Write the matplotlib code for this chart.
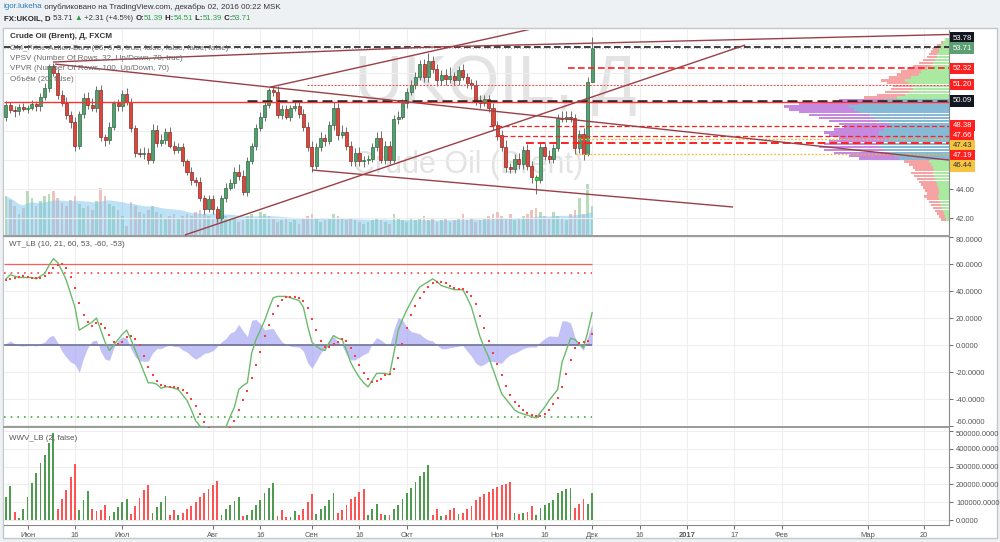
import numpy as np
import pandas as pd
import matplotlib
matplotlib.use("Agg")
import matplotlib.pyplot as plt
from matplotlib.patches import Rectangle
from matplotlib.transforms import blended_transform_factory

plt.rcParams['font.family'] = ['Liberation Sans', 'DejaVu Sans']

# ---------- Data ----------
bar_dates = pd.bdate_range("2016-05-25", "2016-12-01")     # daily bars on the chart
axis_dates = pd.bdate_range("2016-05-25", "2017-04-28")    # time scale incl. empty future

first_open = 48.99
closes = [
    49.79, 49.45, 49.40, 49.65, 49.55, 49.62, 49.85, 49.70, 50.35, 51.00,
    52.50, 51.98, 50.50, 49.95, 49.10, 48.60, 46.95, 49.20, 50.30, 49.80,
    49.60, 50.80, 47.60, 47.40, 48.30, 49.90, 49.70, 50.55, 50.00, 48.20,
    46.50, 46.40, 46.50, 46.00, 48.10, 47.20, 47.40, 47.90, 47.00, 46.70,
    46.90, 45.90, 45.20, 44.60, 44.50, 43.40, 42.60, 43.30, 42.60, 42.00,
    43.40, 44.10, 44.40, 45.20, 44.90, 43.80, 45.90, 47.00, 48.20, 49.00,
    49.80, 50.80, 50.70, 49.10, 49.50, 49.00, 49.60, 49.70, 49.20, 48.30,
    46.90, 45.60, 46.90, 47.50, 47.30, 48.40, 49.60, 47.70, 47.90, 47.00,
    45.90, 46.50, 45.90, 46.00, 46.05, 46.90, 47.50, 46.00, 47.00, 46.00,
    48.80, 49.00, 49.90, 50.70, 51.20, 51.70, 52.60, 51.70, 52.80, 52.30,
    51.50, 51.90, 51.60, 51.80, 51.50, 52.20, 51.70, 51.30, 51.20, 50.10,
    49.90, 50.20, 49.60, 48.40, 47.70, 46.90, 45.50, 45.40, 46.10, 45.70,
    46.70, 45.60, 44.80, 44.65, 46.90, 46.30, 46.10, 46.80, 48.90, 48.85,
    48.95, 48.90, 46.80, 47.80, 46.40, 51.40, 53.71,
]
wick_up = [
    0.3, 0.2, 0.3, 0.2, 0.3, 0.2, 0.3, 0.2, 0.3, 0.3,
    0.1, 0.2, 0.3, 0.3, 0.4, 0.3, 0.4, 0.2, 0.3, 0.4,
    0.5, 0.3, 0.4, 0.2, 0.3, 0.2, 0.3, 0.3, 0.4, 0.3,
    0.2, 0.3, 0.4, 0.3, 0.4, 0.3, 0.4, 0.3, 0.4, 0.3,
    0.3, 0.3, 0.2, 0.3, 0.2, 0.3, 0.2, 0.3, 0.3, 0.2,
    0.2, 0.3, 0.3, 0.3, 0.5, 0.4, 0.3, 0.2, 0.3, 0.3,
    0.3, 0.2, 0.3, 0.4, 0.3, 0.3, 0.2, 0.3, 0.3, 0.3,
    0.3, 0.4, 0.3, 0.4, 0.3, 0.3, 0.4, 0.3, 0.5, 0.4,
    0.3, 0.3, 0.4, 0.3, 0.3, 0.3, 0.4, 0.5, 0.3, 0.3,
    0.3, 0.4, 0.3, 0.3, 0.3, 0.4, 0.3, 0.4, 0.6, 0.4,
    0.3, 0.3, 0.4, 0.6, 0.3, 0.3, 0.4, 0.3, 0.3, 0.3,
    0.4, 0.3, 0.3, 0.3, 0.3, 0.4, 0.5, 0.3, 0.3, 0.4,
    0.3, 0.4, 0.3, 0.2, 0.3, 0.3, 0.4, 0.3, 0.3, 0.5,
    0.4, 0.4, 0.3, 0.3, 0.4, 0.3, 0.80,
]
wick_dn = [
    0.3, 0.2, 0.4, 0.3, 0.2, 0.3, 0.2, 0.3, 0.3, 0.2,
    0.3, 0.2, 0.3, 0.2, 0.3, 0.4, 0.3, 0.2, 0.3, 0.3,
    0.2, 0.3, 0.3, 0.4, 0.3, 0.2, 0.3, 0.3, 0.2, 0.3,
    0.3, 0.2, 0.3, 0.3, 0.2, 0.3, 0.2, 0.3, 0.2, 0.3,
    0.2, 0.3, 0.2, 0.3, 0.3, 0.2, 0.3, 0.2, 0.3, 0.3,
    0.2, 0.3, 0.2, 0.3, 0.3, 0.2, 0.3, 0.2, 0.3, 0.2,
    0.3, 0.2, 0.3, 0.2, 0.3, 0.2, 0.3, 0.2, 0.3, 0.3,
    0.3, 0.4, 0.2, 0.3, 0.3, 0.2, 0.3, 0.3, 0.2, 0.3,
    0.3, 0.3, 0.3, 0.4, 0.3, 0.2, 0.3, 0.2, 0.3, 0.3,
    0.2, 0.3, 0.2, 0.3, 0.2, 0.3, 0.2, 0.3, 0.3, 0.3,
    0.4, 0.3, 0.4, 0.3, 0.3, 0.3, 0.2, 0.3, 0.3, 0.3,
    0.3, 0.2, 0.3, 0.3, 0.3, 0.3, 0.3, 0.3, 0.3, 0.3,
    0.3, 0.3, 0.4, 1.0, 0.2, 0.3, 0.3, 0.3, 0.2, 0.2,
    0.2, 0.3, 0.4, 0.3, 0.4, 0.1, 0.0,
]
volume = [
    40, 36, 30, 22, 28, 45, 38, 30, 35, 40,
    42, 45, 38, 33, 30, 36, 40, 32, 28, 30,
    26, 35, 48, 40, 32, 30, 26, 20, 10, 34,
    30, 24, 22, 26, 30, 24, 22, 18, 20, 22,
    18, 20, 22, 20, 24, 26, 22, 20, 18, 22,
    25, 20, 16, 18, 14, 16, 20, 22, 18, 24,
    22, 20, 18, 14, 16, 18, 14, 16, 12, 18,
    20, 22, 18, 14, 16, 18, 22, 20, 18, 16,
    18, 16, 14, 12, 14, 16, 18, 16, 14, 12,
    22, 18, 16, 14, 18, 16, 18, 20, 16, 18,
    14, 16, 18, 14, 16, 18, 22, 16, 18, 14,
    16, 18, 20, 22, 24, 20, 18, 22, 16, 18,
    20, 22, 26, 28, 24, 20, 18, 24, 20, 18,
    16, 22, 26, 38, 22, 52, 30,
]
pab_bars = [5, 84, 123]   # bars painted by GM_Price-Action-Bars

wt1 = [
    49, 52, 51, 50, 50, 50, 50, 49, 51, 53,
    59, 64, 61, 55, 48, 38, 28, 11, 13, 15,
    17, 20, 11, 2, -4, 0, 4, 8, 11, 4,
    -4, -12, -20, -28, -28, -29, -32, -31, -31, -32,
    -33, -37, -41, -48, -56, -60, -63, -67, -69, -68,
    -65, -61, -53, -46, -33, -30, -28, -6, 4, 11,
    18, 27, 35, 36, 36, 36, 35, 34, 33, 28,
    14, 2, -1, -3, -4, 2, 7, 5, 4, -4,
    -13, -19, -24, -28, -31, -26, -21, -21, -21, -22,
    -6, 11, 19, 26, 32, 38, 43, 45, 47, 49,
    47, 44, 43, 42, 41, 41, 41, 35, 28, 17,
    6, -2, -9, -18, -27, -36, -40, -44, -48, -50,
    -51, -52, -53, -54, -50, -46, -41, -37, -33, -13,
    -4, 5, 4, 1, -2, 10, 24,
]
wt2 = [
    48, 49, 50, 50.5, 50.8, 50.3, 50, 49.8, 50, 50.8,
    53, 56.8, 59.3, 59.8, 57, 50.5, 42.3, 31.3, 22.5, 16.8,
    14, 16.3, 15.8, 12.5, 7.3, 2.3, 0.5, 2, 5.8, 6.8,
    4.8, -0.3, -8, -16, -22, -26.3, -29.3, -30, -30.8, -31,
    -31.8, -33.3, -35.8, -39.8, -45.5, -51.3, -56.8, -61.5, -64.8, -66.8,
    -67.3, -65.8, -61.8, -56.3, -48.3, -40.5, -34.3, -24.3, -15, -4.8,
    6.8, 15, 22.8, 29, 33.5, 35.8, 35.8, 35.3, 34.5, 32.5,
    27.3, 19.3, 10.8, 3, -1.5, -1.5, 0.5, 2.5, 4.5, 3,
    -2, -8, -15, -21, -25.5, -27.3, -26.5, -24.8, -22.3, -21.3,
    -17.5, -9.5, 0.5, 12.5, 22, 28.8, 34.8, 39.5, 43.3, 46,
    47, 46.8, 45.8, 44, 42.5, 41.8, 41.3, 39.5, 36.3, 30.3,
    21.5, 12.3, 3, -5.8, -14, -22.5, -30.3, -36.8, -42, -45.5,
    -48.3, -50.3, -51.5, -52.5, -52.3, -50.8, -47.8, -43.5, -39.3, -31,
    -21.8, -11.3, -2, 1.5, 2, 3.3, 8.3,
]

wwv = [   # thousands
    129, 191, 45, 11, 62, 129, 208, 264, 320, 365,
    432, 488, 62, 118, 168, 241, 314, 56, 112, 163,
    62, 51, 56, 84, 22, 45, 73, 101, 118, 34,
    79, 124, 168, 197, 39, 73, 101, 135, 28, 56,
    28, 39, 62, 79, 101, 129, 152, 174, 197, 219,
    28, 62, 84, 107, 129, 22, 28, 56, 84, 112,
    152, 180, 208, 22, 56, 17, 17, 51, 30, 62,
    100, 145, 35, 62, 80, 110, 150, 40, 55, 85,
    120, 130, 160, 175, 30, 60, 90, 35, 30, 30,
    60, 85, 120, 150, 180, 215, 250, 270, 310, 30,
    60, 25, 30, 55, 70, 35, 40, 60, 80, 110,
    130, 145, 160, 175, 185, 195, 205, 215, 40, 35,
    40, 45, 80, 30, 70, 85, 95, 110, 150, 165,
    175, 180, 70, 90, 120, 90, 150,
]
wwv_dir = ("gg" "r" "ggggggggg" "rrrrr" "ggg" "rrrr" "ggggg" "rrrrr" "gggg" "rr"
           "g" "rrrrrrrrr" "ggggg" "r" "ggggggg" "rrr" "gg" "rrrr" "ggggg"
           "rrrrrrr" "ggg" "r" "g" "r" "ggggggggg" "rr" "g" "rrr" "g"
           "rrrrrrrrrrrr" "g" "r" "g" "rr" "ggggggggg" "rrr" "gg")

# visible-range volume profile rows
vp_prices = [54.3, 54.1, 53.9, 53.7, 53.5, 53.3, 53.1, 52.9, 52.7, 52.5, 52.3,
             52.1, 51.9, 51.7, 51.5, 51.3, 51.1, 50.9, 50.7, 50.5, 50.3,
             50.1, 49.9, 49.7, 49.5, 49.3, 49.1, 48.9, 48.7, 48.5, 48.3,
             48.1, 47.9, 47.7, 47.5, 47.3, 47.1, 46.9, 46.7, 46.5, 46.3,
             46.1, 45.9, 45.7, 45.5, 45.3, 45.1, 44.9, 44.7, 44.5, 44.3,
             44.1, 43.9, 43.7, 43.5, 43.3, 43.1, 42.9, 42.7, 42.5, 42.3,
             42.1, 41.9]
vp_up = [4, 6, 8, 10, 10, 12, 12, 14, 16, 18, 22, 28, 30, 38, 44, 40, 36, 36, 40, 44, 52,
         65, 90, 100, 95, 90, 80, 75, 70, 60, 60, 65, 70, 70, 60, 65, 70, 70, 65, 60, 55,
         50, 20, 18, 16, 15, 16, 15, 14, 13, 12, 11, 10, 10, 11, 10, 9, 8, 7, 6, 5, 4, 3]
vp_down = [0, 2, 4, 6, 8, 8, 10, 12, 14, 18, 20, 20, 22, 22, 24, 22, 20, 22, 24, 28, 33,
           45, 60, 65, 65, 60, 60, 55, 50, 50, 45, 50, 55, 50, 50, 55, 55, 60, 60, 55, 45,
           40, 25, 22, 20, 19, 22, 20, 18, 17, 16, 15, 14, 12, 14, 12, 11, 10, 9, 8, 7, 6, 5]
va_low, va_high = 46.05, 50.15

# horizontal levels and the bar where each one starts
level_prices = [53.78, 53.71, 52.32, 51.20, 50.09, 50.00, 48.38, 47.66, 47.43, 47.19, 46.44]
level_start = [-0.5, -0.5, 130.4, 69.8, 56.0, -0.5, 112.0, 113.5, 132.5, 120.6, 132.0]

label_prices = [53.78, 53.71, 52.32, 51.20, 50.09, 48.38, 47.66, 47.43, 47.19, 46.44]
last_price = 53.71

# trend lines: (bar, price) -> (bar, price)
trend_lines = [
    (10.9, 52.76, 98.4, 53.79),
    (98.4, 53.79, 218.8, 54.66),
    (61.3, 51.03, 150.0, 56.90),
    (11.4, 52.62, 218.8, 46.00),
    (71.0, 45.31, 168.7, 42.76),
    (41.5, 40.83, 171.5, 53.93),
]

tick_dates = ["2016-06-01", "2016-06-16", "2016-07-01", "2016-08-01", "2016-08-16",
              "2016-09-01", "2016-09-16", "2016-10-03", "2016-11-01", "2016-11-16",
              "2016-12-01", "2016-12-16", "2017-01-02", "2017-01-17", "2017-02-01",
              "2017-03-01", "2017-03-20"]
tick_labels = ["Июн", "16", "Июл", "Авг", "16", "Сен", "16", "Окт", "Ноя", "16",
               "Дек", "16", "2017", "17", "Фев", "Мар", "20"]

# ---------- Derived ----------
n = len(closes)
idx = np.arange(n)
cl = np.array(closes)
op = np.array([first_open] + closes[:-1])      # FX bars open at the prior close
top = np.maximum(op, cl)
bot = np.minimum(op, cl)
highs = top + np.array(wick_up)
lows = bot - np.array(wick_dn)
is_up = cl >= op
tick_pos = axis_dates.get_indexer(pd.to_datetime(tick_dates))

# ---------- Figure / layout (pixel based) ----------
W, H = 1000, 542
fig = plt.figure(figsize=(10, 5.42), dpi=100, facecolor='#eef1f4')

def fx(x):
    return x / W

def fy(y):
    return 1 - y / H

def panel(x0, y0, x1, y1, **kw):
    return fig.add_axes([fx(x0), fy(y1), fx(x1) - fx(x0), fy(y0) - fy(y1)], **kw)

fig.patches.append(Rectangle((fx(3), fy(538)), fx(994), fy(28) - fy(538),
                             transform=fig.transFigure, fc='white', ec='#c3c7cb', lw=1, zorder=-5))

XMIN, XMAX = -0.46, 218.8
GRID = '#eeeeee'
TXT = '#555555'

ax_vol = panel(4, 30, 949, 236)
ax_p = panel(4, 30, 949, 236)
ax_w = panel(4, 237, 949, 427)
ax_v = panel(4, 428, 949, 525)

for a in (ax_vol, ax_p, ax_w, ax_v):
    a.set_xlim(XMIN, XMAX)
    a.set_xticks(tick_pos)
    a.tick_params(axis='x', length=0, labelbottom=False)
    for s in ('top', 'left', 'bottom'):
        a.spines[s].set_visible(False)
    a.spines['right'].set_color('#8a8a8a')
    a.yaxis.tick_right()
    a.tick_params(axis='y', labelsize=5.4, colors=TXT, length=3, pad=2, width=0.6)
    a.grid(True, color=GRID, lw=0.8)
    a.set_axisbelow(True)

ax_vol.set_facecolor('white')
ax_vol.set_ylim(0, 206)
ax_vol.set_yticks([])
ax_vol.spines['right'].set_visible(False)
ax_p.set_facecolor('none')
ax_p.set_ylim(40.76, 54.97)
ax_p.set_yticks([42, 44, 46, 48, 50, 52, 54])
ax_p.set_yticklabels(['42.00', '44.00', '', '', '', '', ''])
ax_p.grid(True, color=GRID, lw=0.8)
ax_p.grid(False, axis='x')
for a in (ax_p, ax_w):
    a.spines['bottom'].set_visible(True)
    a.spines['bottom'].set_color('#9a9a9a')
    a.spines['bottom'].set_linewidth(1.4)

# ---------- Volume (Объём) ----------
vcol = np.where(is_up, '#b8dcb8', '#f0c2bd')
ax_vol.bar(idx, volume, width=0.62, color=vcol, lw=0)
vol_ma = pd.Series(volume, dtype=float).rolling(20, min_periods=1).mean()
ax_vol.fill_between(idx, 0, vol_ma, color='#7cc6ef', alpha=0.5, lw=0)

# ---------- Watermark ----------
ax_p.text(81.0, 50.0, "UKOIL, Д", fontsize=48, color='#e3e3e3', ha='left', va='baseline',
          zorder=0.5)
ax_p.text(80.5, 45.1, "Crude Oil (Brent)", fontsize=22, color='#e3e3e3', ha='left',
          va='baseline', zorder=0.5)

# ---------- Volume profile ----------
vp_up_a = np.array(vp_up, float)
vp_dn_a = np.array(vp_down, float)
scale = 0.175 * (XMAX - XMIN) / (vp_up_a + vp_dn_a).max()
for p, u, d in zip(vp_prices, vp_up_a * scale, vp_dn_a * scale):
    in_va = va_low <= p <= va_high
    cu = '#86b9d6' if in_va else '#a9eaa0'
    cd = '#c58ae0' if in_va else '#f5a3a3'
    ax_p.barh(p, u, left=XMAX - u, height=0.17, color=cu, lw=0, zorder=1.5)
    ax_p.barh(p, d, left=XMAX - u - d, height=0.17, color=cd, lw=0, zorder=1.5)

# ---------- Candles ----------
ax_p.vlines(idx, lows, highs, color='#6f6f6f', lw=0.7, zorder=2)
body_h = np.maximum(top - bot, 0.05)
face = np.where(is_up, '#53a06e', '#d9473d')
edge = np.where(is_up, '#2f6a45', '#8a2a22')
for i in pab_bars:
    face[i] = '#2ee82e'
    edge[i] = '#1a8a1a'
ax_p.bar(idx, body_h, bottom=bot, width=0.7, color=face, edgecolor=edge, lw=0.5, zorder=3)

# ---------- Levels ----------
lvl_style = [
    dict(color='#1c1c1c', ls=(0, (4, 2)), lw=1.2),
    dict(color='#b0b0b0', ls=':', lw=0.8),
    dict(color='#ff2020', ls=(0, (4, 2)), lw=1.2),
    dict(color='#ff4040', ls=(0, (2, 1.5)), lw=0.7),
    dict(color='#1c1c1c', ls=(0, (4, 2)), lw=1.8),
    dict(color='#ff3030', ls='-', lw=1.0),
    dict(color='#ff2020', ls=(0, (4, 2)), lw=0.9),
    dict(color='#ff2020', ls=(0, (4, 2)), lw=0.9),
    dict(color='#f5b82e', ls=(0, (1.5, 1.5)), lw=0.9),
    dict(color='#ff2020', ls=(0, (4, 2)), lw=1.4),
    dict(color='#f5b82e', ls=(0, (1.5, 1.5)), lw=0.9),
]
for p, x0, st in zip(level_prices, level_start, lvl_style):
    ax_p.hlines(p, x0, XMAX, zorder=4, **st)

for x0, p0, x1, p1 in trend_lines:
    ax_p.plot([x0, x1], [p0, p1], color='#9b3f46', lw=1.0, zorder=4, solid_capstyle='butt')

# ---------- Right-scale price labels (stacked like TradingView) ----------
lbl_colors = {
    53.78: ('#131722', 'white'), 53.71: ('#5b9f73', 'white'), 52.32: ('#ff1f1f', 'white'),
    51.20: ('#ff1f1f', 'white'), 50.09: ('#131722', 'white'), 48.38: ('#ff1f1f', 'white'),
    47.66: ('#ff1f1f', 'white'), 47.43: ('#f6c343', '#333333'), 47.19: ('#ff1f1f', 'white'),
    46.44: ('#f6c343', '#333333'),
}
to_disp = ax_p.transData
ypx = {p: to_disp.transform((0, p))[1] for p in label_prices}
gap = 10.0
prev = ypx[last_price]
for p in sorted([q for q in label_prices if q > last_price]):
    ypx[p] = max(ypx[p], prev + gap)
    prev = ypx[p]
prev = ypx[last_price]
for p in sorted([q for q in label_prices if q < last_price], reverse=True):
    ypx[p] = min(ypx[p], prev - gap)
    prev = ypx[p]
lab_tr = blended_transform_factory(ax_p.transAxes, ax_p.transData)
for p in label_prices:
    yd = to_disp.inverted().transform((0, ypx[p]))[1]
    bg, fg = lbl_colors[p]
    ax_p.text(1.004, yd, f"{p:.2f}", transform=lab_tr, fontsize=5.6, color=fg,
              ha='left', va='center', clip_on=False, zorder=10,
              bbox=dict(boxstyle='square,pad=0.3', fc=bg, ec='none'))

# ---------- WT_LB ----------
wt1_a = np.array(wt1, float)
wt2_a = np.array(wt2, float)
ax_w.set_ylim(-60.7, 80)
ax_w.set_yticks(range(-60, 81, 20))
ax_w.set_yticklabels([f"{v:.4f}" for v in range(-60, 81, 20)])
ax_w.get_yticklabels()[0].set_va('bottom')     # keep clear of the panel below
ax_w.get_yticklabels()[-1].set_va('top')
ax_w.fill_between(idx, 0, wt1_a - wt2_a, color='#a8a8f5', alpha=0.7, lw=0, zorder=1)
ax_w.hlines(0, XMIN, idx[-1], color='#6f6f95', lw=1.2, zorder=2)
ax_w.hlines(60, XMIN, idx[-1], color='#ff5c5c', lw=0.9, zorder=2)
ax_w.hlines(53, XMIN, idx[-1], color='#ff4040', lw=1.2, ls=(0, (1, 3)), zorder=2)
ax_w.hlines(-53, XMIN, idx[-1], color='#3fae3f', lw=1.2, ls=(0, (1, 3)), zorder=2)
ax_w.hlines(-60, XMIN, idx[-1], color='#6fbf6f', lw=0.9, zorder=2)
ax_w.plot(idx, wt1_a, color='#6cbb6c', lw=1.0, zorder=3)
ax_w.scatter(idx, wt2_a, s=2.5, marker='s', color='#ff3b3b', lw=0, zorder=4)

# ---------- WWV_LB ----------
wwv_a = np.array(wwv, float) * 1000
wcol = ['#4e9a4e' if c == 'g' else '#ff5252' for c in wwv_dir]
ax_v.set_ylim(-28000, 517000)
ax_v.set_yticks(range(0, 500001, 100000))
ax_v.set_yticklabels([f"{v:.4f}" for v in range(0, 500001, 100000)])
ax_v.get_yticklabels()[-1].set_va('top')
ax_v.bar(idx[:len(wcol)], wwv_a[:len(wcol)], width=0.42, color=wcol, lw=0, zorder=2)
ax_v.spines['bottom'].set_visible(True)
ax_v.spines['bottom'].set_color('#8a8a8a')
ax_v.tick_params(axis='x', length=3, labelbottom=True, labelsize=5.4, colors=TXT, pad=2,
                 width=0.6)
ax_v.set_xticklabels(tick_labels)
for t, s in zip(ax_v.get_xticklabels(), tick_labels):
    if s == "2017":
        t.set_fontweight('bold')

# ---------- Texts ----------
def text_run(x, y, parts, size):
    r = fig.canvas.get_renderer()
    for s, color, weight in parts:
        t = fig.text(fx(x), fy(y), s, color=color, fontsize=size, fontweight=weight,
                     ha='left', va='center')
        x += t.get_window_extent(renderer=r).width

GREEN = '#2e9e47'
text_run(3, 7, [("igor.lukeha", '#2b7bb9', 'normal'),
                (" опубликовано на TradingView.com, декабрь 02, 2016 00:22 MSK", '#333333', 'normal')], 5.8)
text_run(4, 19, [("FX:UKOIL, D", '#222222', 'bold'), (" 53.71 ", '#333333', 'normal'),
                 ("▲", GREEN, 'normal'), (" +2.31 (+4.5%) ", '#333333', 'normal'),
                 ("O:", '#222222', 'bold'), ("51.39", GREEN, 'normal'),
                 (" H:", '#222222', 'bold'), ("54.51", GREEN, 'normal'),
                 (" L:", '#222222', 'bold'), ("51.39", GREEN, 'normal'),
                 (" C:", '#222222', 'bold'), ("53.71", GREEN, 'normal')], 5.6)

legend = ["GM_Price-Action-Bars (66, 6, 5, true, false, false, false, false)",
          "VPSV (Number Of Rows, 32, Up/Down, 70, true)",
          "VPVR (Number Of Rows, 100, Up/Down, 70)",
          "Объём (20, false)"]
fig.text(fx(10), fy(37), "Crude Oil (Brent), Д, FXCM", fontsize=5.8, color='#333333',
         va='center', fontweight='bold')
for k, s in enumerate(legend):
    fig.text(fx(10), fy(48 + 10.5 * k), s, fontsize=5.8, color='#6a6a6a', va='center')
fig.text(fx(9), fy(245), "WT_LB (10, 21, 60, 53, -60, -53)", fontsize=5.8, color='#555555',
         va='center')
fig.text(fx(9), fy(438), "WWV_LB (2, false)", fontsize=5.8, color='#555555', va='center')

fig.savefig("out.png", dpi=100, facecolor=fig.get_facecolor())
